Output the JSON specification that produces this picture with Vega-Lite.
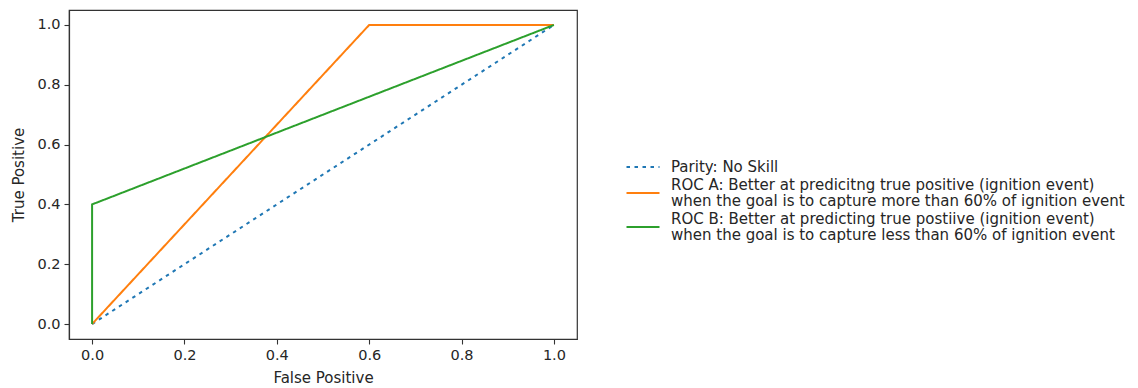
{
  "$schema": "https://vega.github.io/schema/vega-lite/v6.json",
  "width": 508,
  "height": 329,
  "autosize": "none",
  "padding": {"left": 69, "top": 10, "right": 561, "bottom": 49},
  "background": "white",
  "config": {
    "font": "DejaVu Sans",
    "view": {"stroke": "#333333", "strokeWidth": 1.2},
    "axis": {
      "domain": true,
      "domainColor": "#333333",
      "domainWidth": 1.2,
      "grid": false,
      "tickColor": "#333333",
      "tickSize": 5,
      "tickWidth": 1.1,
      "labelFont": "DejaVu Sans",
      "labelFontSize": 14.5,
      "labelColor": "#262626",
      "titleFont": "DejaVu Sans",
      "titleFontSize": 15,
      "titleFontWeight": "normal",
      "titleColor": "#262626"
    }
  },
  "data": {
    "values": [
      {"series": "Parity: No Skill", "fp": 0, "tp": 0, "ord": 0},
      {"series": "Parity: No Skill", "fp": 1, "tp": 1, "ord": 1},
      {"series": "ROC A: Better at predicitng true positive (ignition event)|\u00a0when the goal is to capture more than 60% of ignition event", "fp": 0, "tp": 0, "ord": 0},
      {"series": "ROC A: Better at predicitng true positive (ignition event)|\u00a0when the goal is to capture more than 60% of ignition event", "fp": 0.6, "tp": 1, "ord": 1},
      {"series": "ROC A: Better at predicitng true positive (ignition event)|\u00a0when the goal is to capture more than 60% of ignition event", "fp": 1, "tp": 1, "ord": 2},
      {"series": "ROC B: Better at predicting true postiive (ignition event)|\u00a0when the goal is to capture less than 60% of ignition event", "fp": 0, "tp": 0, "ord": 0},
      {"series": "ROC B: Better at predicting true postiive (ignition event)|\u00a0when the goal is to capture less than 60% of ignition event", "fp": 0, "tp": 0.4, "ord": 1},
      {"series": "ROC B: Better at predicting true postiive (ignition event)|\u00a0when the goal is to capture less than 60% of ignition event", "fp": 1, "tp": 1, "ord": 2}
    ]
  },
  "mark": {"type": "line", "strokeWidth": 2},
  "encoding": {
    "x": {
      "field": "fp",
      "type": "quantitative",
      "scale": {"domain": [-0.05, 1.05], "nice": false, "zero": false},
      "axis": {"values": [0, 0.2, 0.4, 0.6, 0.8, 1.0], "format": ".1f", "title": "False Positive", "labelPadding": 4, "titlePadding": 9}
    },
    "y": {
      "field": "tp",
      "type": "quantitative",
      "scale": {"domain": [-0.05, 1.05], "nice": false, "zero": false},
      "axis": {"values": [0, 0.2, 0.4, 0.6, 0.8, 1.0], "format": ".1f", "title": "True Positive", "labelPadding": 4, "titlePadding": 10}
    },
    "order": {"field": "ord"},
    "color": {
      "field": "series",
      "type": "nominal",
      "scale": {"range": ["#1f77b4", "#ff7f0e", "#2ca02c"]},
      "legend": {
        "title": null,
        "orient": "none",
        "legendX": 556,
        "legendY": 139,
        "symbolType": "M-1,0L1,0",
        "symbolSize": 1089,
        "symbolStrokeWidth": 2.2,
        "labelFont": "DejaVu Sans",
        "labelFontSize": 15,
        "labelColor": "#262626",
        "labelLimit": 700,
        "labelOffset": 10,
        "rowPadding": 0,
        "labelExpr": "split(datum.label, '|')",
        "encode": {
          "labels": {
            "update": {
              "lineHeight": {"value": 16},
              "dy": {"signal": "indexof(datum.label, '|') >= 0 ? -8 : 0"}
            }
          }
        }
      }
    },
    "strokeDash": {
      "field": "series",
      "type": "nominal",
      "scale": {"range": [[3.5, 4.5], [1, 0], [1, 0]]},
      "legend": {
        "title": null,
        "orient": "none",
        "legendX": 556,
        "legendY": 139,
        "symbolType": "M-1,0L1,0",
        "symbolSize": 1089,
        "symbolStrokeWidth": 2.2,
        "labelFont": "DejaVu Sans",
        "labelFontSize": 15,
        "labelColor": "#262626",
        "labelLimit": 700,
        "labelOffset": 10,
        "rowPadding": 0,
        "labelExpr": "split(datum.label, '|')",
        "encode": {
          "labels": {
            "update": {
              "lineHeight": {"value": 16},
              "dy": {"signal": "indexof(datum.label, '|') >= 0 ? -8 : 0"}
            }
          }
        }
      }
    }
  }
}
